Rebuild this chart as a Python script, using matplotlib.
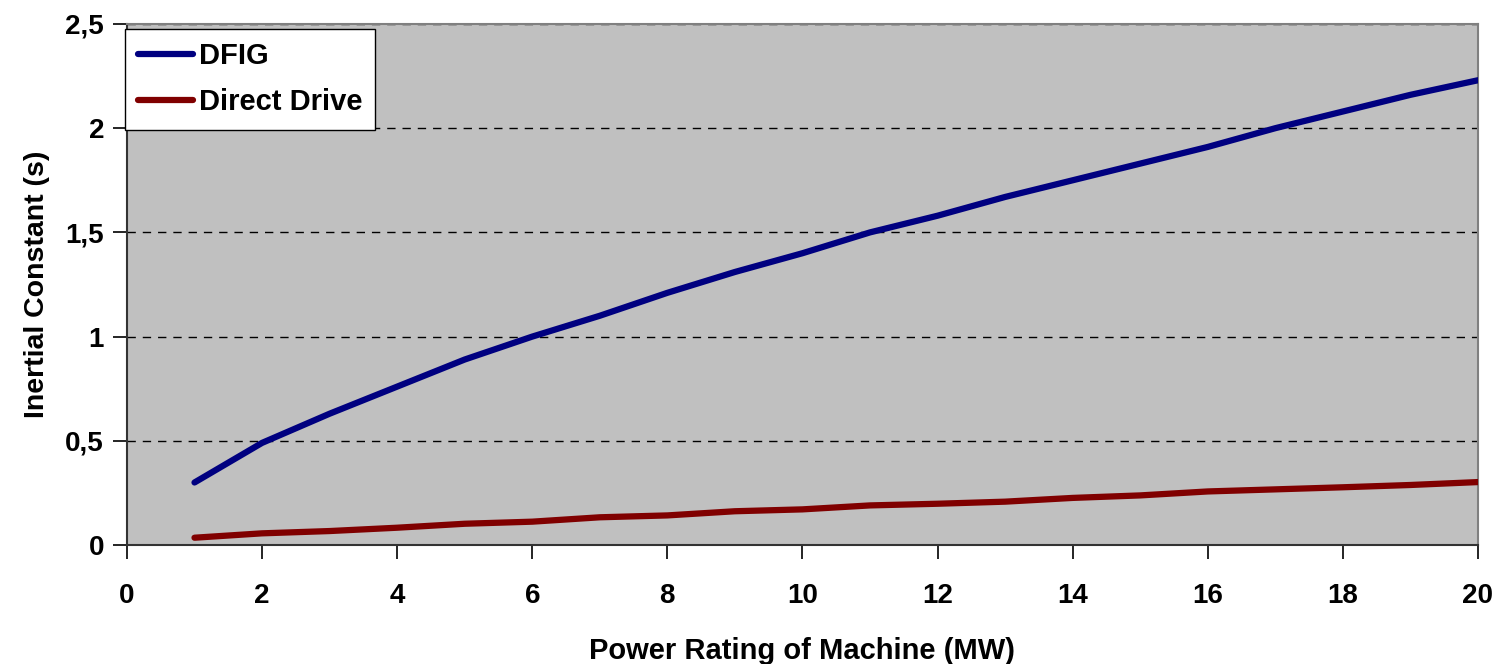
import matplotlib
matplotlib.use("Agg")
import matplotlib.pyplot as plt
from matplotlib.ticker import FuncFormatter

plt.rcParams['font.family'] = ['Liberation Sans', 'DejaVu Sans']
plt.rcParams['font.weight'] = 'bold'

# values
power_mw = [1, 2, 3, 4, 5, 6, 7, 8, 9, 10, 11, 12, 13, 14, 15, 16, 17, 18, 19, 20]
dfig = [0.30, 0.49, 0.63, 0.76, 0.89, 1.00, 1.10, 1.21, 1.31, 1.40, 1.50, 1.58, 1.67, 1.75,
        1.83, 1.91, 2.00, 2.08, 2.16, 2.23]
direct_drive = [0.035, 0.056, 0.067, 0.083, 0.102, 0.112, 0.133, 0.142, 0.162, 0.171, 0.190,
                0.198, 0.208, 0.226, 0.238, 0.257, 0.267, 0.277, 0.288, 0.302]
x_ticks = list(range(0, 21, 2))
y_ticks = [0, 0.5, 1, 1.5, 2, 2.5]

fig = plt.figure(figsize=(14.97, 6.64), dpi=100)
ax = fig.add_axes([0.0848, 0.1792, 0.9025, 0.7847])
ax.set_facecolor('#C0C0C0')

ax.plot(power_mw, dfig, color='#000080', lw=4.5, solid_capstyle='round', label='DFIG', zorder=3)
ax.plot(power_mw, direct_drive, color='#800000', lw=4.5, solid_capstyle='round',
        label='Direct Drive', zorder=3)

ax.set_xlim(0, 20)
ax.set_ylim(0, 2.5)
ax.set_xticks(x_ticks)
ax.set_yticks(y_ticks)
ax.yaxis.set_major_formatter(FuncFormatter(lambda v, p: f"{v:g}".replace('.', ',')))

ax.set_axisbelow(True)
ax.yaxis.grid(True, linestyle=(0, (6, 5)), color='black', lw=1.0)

for side in ['left', 'bottom']:
    ax.spines[side].set_color('#333333')
    ax.spines[side].set_linewidth(1.5)
for side in ['top', 'right']:
    ax.spines[side].set_color('#808080')
    ax.spines[side].set_linewidth(1.5)

ax.tick_params(axis='both', direction='out', length=10, width=1.2, colors='black', labelsize=20)
ax.tick_params(axis='y', pad=6.5)
ax.tick_params(axis='x', pad=17.5)

ax.set_xlabel('Power Rating of Machine (MW)', fontsize=21, fontweight='bold', labelpad=20)
ax.set_ylabel('Inertial Constant (s)', fontsize=20.5, fontweight='bold', labelpad=11)

leg = ax.legend(loc='upper left', bbox_to_anchor=(-0.0015, 0.99), borderaxespad=0,
                fontsize=21, fancybox=False, framealpha=1, edgecolor='black',
                handlelength=1.9, handletextpad=0.18, labelspacing=0.62,
                borderpad=0.45)
leg.get_frame().set_linewidth(1.0)
leg.set_zorder(5)

fig.savefig('out.png', dpi=100)
